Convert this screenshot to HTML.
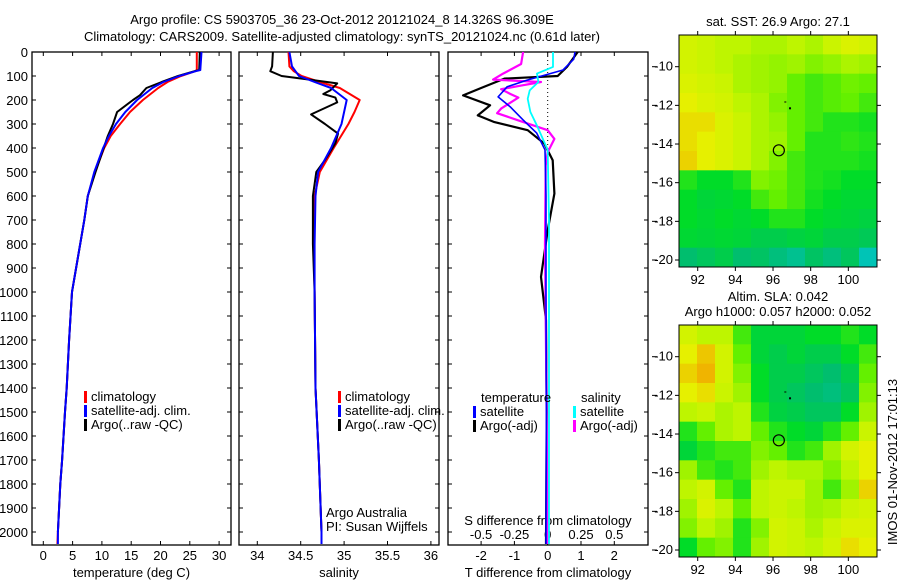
<!DOCTYPE html>
<html><head><meta charset="utf-8"><style>
html,body{margin:0;padding:0;background:#fff;}
svg{display:block;font-family:"Liberation Sans",sans-serif;}
text{fill:#000;font-size:13px;}
</style></head><body>
<svg id="fig" width="900" height="580" viewBox="0 0 900 580" xmlns="http://www.w3.org/2000/svg">
<text x="342" y="24" text-anchor="middle" font-size="14">Argo profile: CS 5903705_36 23-Oct-2012 20121024_8 14.326S 96.309E</text>
<text x="342" y="41" text-anchor="middle" font-size="14">Climatology: CARS2009. Satellite-adjusted climatology: synTS_20121024.nc (0.61d later)</text>
<g id="p1"></g>
<g id="p2"></g>
<g id="p3"></g>
<g id="m1"></g>
<g id="m2"></g>
<text x="778" y="26" text-anchor="middle" font-size="12">sat. SST: 26.9 Argo: 27.1</text>
<text x="778" y="301" text-anchor="middle" font-size="12">Altim. SLA: 0.042</text>
<text x="778" y="316" text-anchor="middle" font-size="12">Argo h1000: 0.057 h2000: 0.052</text>
<text x="0" y="0" font-size="12" text-anchor="middle" transform="translate(897,462) rotate(-90)">IMOS 01-Nov-2012 17:01:13</text>
</svg>
<script>
// ---- data ----
const depthTicks=[0,100,200,300,400,500,600,700,800,900,1000,1100,1200,1300,1400,1500,1600,1700,1800,1900,2000];
const tTicks=[0,5,10,15,20,25,30];
const sTicks=[34,34.5,35,35.5,36];
const dTTicks=[-2,-1,0,1,2];
const dSTicks=[-0.5,-0.25,0,0.25,0.5];
const dSTickLabels=["-0.5","-0.25","0","0.25","0.5"];

const tClimDepth=[0,75,80,100,125,150,200,250,300,350,400,500,600,700,800,1000,1200,1400,1500,1700,1800,2000,2050];
const tClim=[26.2,26.2,25.9,23.5,21.2,19.6,17.0,14.8,13.1,11.5,10.4,8.8,7.6,7.0,6.3,4.9,4.4,4.0,3.7,3.2,2.9,2.5,2.4];
const tSatDepth=[0,75,80,100,125,150,200,250,300,350,400,500,600,700,800,1000,1200,1400,1500,1700,1800,2000,2050];
const tSat=[27.0,26.8,26.0,23.2,20.5,18.6,16.0,14.0,12.4,11.2,10.2,8.7,7.6,7.0,6.3,4.9,4.4,4.0,3.7,3.2,2.9,2.5,2.5];
const tArgoDepth=[0,75,80,100,125,150,180,200,250,300,350,400,500,600,700,800,1000,1200,1400,1500,1700,1800,2000];
const tArgo=[26.7,26.6,25.8,23.0,20.2,17.6,16.5,15.3,12.6,11.9,11.0,10.3,8.9,7.6,7.0,6.3,4.9,4.4,4.0,3.7,3.2,2.9,2.5];

const sClimDepth=[0,60,80,100,125,150,200,250,300,400,500,600,800,1000,1400,1700,2000,2050];
const sClim=[34.36,34.37,34.42,34.51,34.72,34.95,35.18,35.12,35.05,34.88,34.72,34.66,34.65,34.66,34.67,34.71,34.74,34.74];
const sSatDepth=[0,60,80,100,125,150,200,250,300,400,500,600,800,1000,1400,1700,2000,2050];
const sSat=[34.37,34.40,34.44,34.48,34.66,34.85,35.03,35.0,34.97,34.85,34.70,34.67,34.66,34.66,34.67,34.71,34.74,34.74];
const sArgoDepth=[0,60,80,100,115,131,160,175,190,210,260,300,340,380,450,500,600,800,1000,1400,1700,2000];
const sArgo=[34.18,34.17,34.15,34.28,34.60,34.92,34.84,34.76,34.90,34.92,34.62,34.78,34.93,34.90,34.78,34.68,34.64,34.64,34.66,34.67,34.71,34.74];

const dTSatDepth=[0,30,75,117,145,187,228,283,338,408,600,1000,1500,2050];
const dTSat=[0.82,0.78,0.46,-0.62,-1.22,-1.49,-1.13,-0.74,-0.33,-0.08,-0.05,-0.05,-0.04,-0.05];
const dTArgoDepth=[0,62,100,111,150,181,222,264,292,326,382,451,590,743,937,1117,1500,2050];
const dTArgo=[0.9,0.58,0.3,-1.3,-2.0,-2.54,-1.73,-2.1,-1.6,-0.6,-0.1,0.15,0.2,0.0,-0.2,-0.05,-0.03,-0.05];
const dSSatDepth=[0,62,90,125,160,195,250,307,408,700,1200,2050];
const dSSat=[0.04,0.04,-0.08,-0.07,-0.135,-0.15,-0.13,-0.08,0.0,0.01,0.01,0.01];
const dSArgoDepth=[0,50,90,115,125,140,155,175,190,236,255,285,326,362,417,473,800,1400,2050];
const dSArgo=[-0.185,-0.2,-0.335,-0.41,-0.05,-0.2,-0.35,-0.28,-0.22,-0.35,-0.38,-0.22,0.0,0.05,0.0,-0.015,-0.02,-0.01,0.0];

const lonTicks=[92,94,96,98,100];
const latTicks=[-10,-12,-14,-16,-18,-20];
const sstGrid=[
[0.8,0.78,0.75,0.75,0.72,0.72,0.75,0.72,0.78,0.82,0.8],
[0.8,0.78,0.75,0.72,0.7,0.68,0.7,0.65,0.68,0.72,0.7],
[0.82,0.8,0.78,0.72,0.7,0.68,0.6,0.55,0.58,0.62,0.6],
[0.85,0.82,0.8,0.75,0.72,0.65,0.6,0.55,0.58,0.6,0.55],
[0.88,0.88,0.82,0.78,0.72,0.68,0.6,0.55,0.5,0.5,0.48],
[0.88,0.85,0.82,0.78,0.72,0.7,0.6,0.5,0.5,0.52,0.5],
[0.9,0.85,0.82,0.78,0.72,0.65,0.55,0.5,0.5,0.5,0.48],
[0.5,0.45,0.45,0.5,0.65,0.62,0.55,0.5,0.48,0.45,0.45],
[0.45,0.4,0.42,0.45,0.55,0.6,0.55,0.48,0.45,0.42,0.42],
[0.45,0.42,0.45,0.42,0.45,0.5,0.5,0.45,0.42,0.4,0.38],
[0.42,0.4,0.42,0.4,0.35,0.35,0.38,0.4,0.35,0.35,0.32],
[0.25,0.3,0.35,0.25,0.28,0.22,0.18,0.28,0.22,0.3,0.1]];
const slaGrid=[
[0.8,0.75,0.75,0.55,0.4,0.4,0.4,0.45,0.45,0.5,0.45],
[0.85,0.92,0.8,0.6,0.4,0.35,0.4,0.35,0.35,0.45,0.55],
[0.9,0.95,0.8,0.65,0.45,0.35,0.35,0.3,0.25,0.35,0.6],
[0.85,0.88,0.78,0.7,0.45,0.35,0.3,0.25,0.22,0.3,0.65],
[0.75,0.78,0.72,0.75,0.5,0.38,0.35,0.3,0.3,0.45,0.7],
[0.5,0.6,0.72,0.75,0.6,0.5,0.45,0.4,0.5,0.6,0.78],
[0.4,0.5,0.55,0.55,0.65,0.6,0.5,0.55,0.7,0.8,0.85],
[0.7,0.55,0.5,0.55,0.7,0.75,0.72,0.72,0.65,0.75,0.85],
[0.75,0.8,0.6,0.5,0.75,0.78,0.78,0.7,0.55,0.7,0.9],
[0.7,0.82,0.75,0.6,0.75,0.78,0.75,0.7,0.72,0.78,0.8],
[0.65,0.75,0.7,0.5,0.65,0.8,0.78,0.72,0.78,0.82,0.82],
[0.45,0.6,0.65,0.5,0.7,0.8,0.78,0.75,0.8,0.88,0.85]];
const argoLon=96.309, argoLat=-14.326;

// ---- helpers ----
const NS="http://www.w3.org/2000/svg";
function mk(parent,tag,attrs){const e=document.createElementNS(NS,tag);for(const k in attrs)e.setAttribute(k,attrs[k]);parent.appendChild(e);return e;}
const Y0=52, Y1=545;
const yD=d=>Y0+d*0.24;
function panel(g,x0,x1,xs,ticks,labels,xlabel,name){
  const fr=mk(g,'rect',{x:x0,y:Y0,width:x1-x0,height:Y1-Y0,fill:'none',stroke:'#000','stroke-width':1.3});
  
  
  ticks.forEach((t,i)=>{const x=xs(t);
    mk(g,'line',{x1:x,x2:x,y1:Y1,y2:Y1-4,stroke:'#000'});
    mk(g,'line',{x1:x,x2:x,y1:Y0,y2:Y0+4,stroke:'#000'});
    const tx=mk(g,'text',{x:x,y:560,'text-anchor':'middle'});tx.textContent=labels[i];
    
    
  });
  depthTicks.forEach(d=>{mk(g,'line',{x1:x0,x2:x0+4,y1:yD(d),y2:yD(d),stroke:'#000'});mk(g,'line',{x1:x1,x2:x1-4,y1:yD(d),y2:yD(d),stroke:'#000'});});
  if(xlabel){const t=mk(g,'text',{x:(x0+x1)/2,y:577,'text-anchor':'middle'});t.textContent=xlabel;
    
    }
}
function line(g,xs,depths,vals,color,w,name){
  const pts=depths.map((d,i)=>xs(vals[i]).toFixed(1)+','+yD(d).toFixed(1)).join(' ');
  const p=mk(g,'polyline',{points:pts,fill:'none',stroke:color,'stroke-width':w,'stroke-linejoin':'round'});
  
  
}
function legend(g,x,y,items){
  items.forEach((it,i)=>{
    mk(g,'rect',{x:x,y:y+i*14-10,width:3,height:12,fill:it[1]});
    const t=mk(g,'text',{x:x+7,y:y+i*14});t.textContent=it[0];
    
    
  });
}
// ---- panel 1 ----
const g1=document.getElementById('p1');
const xT=v=>43.3+v*5.86;
panel(g1,32,231,xT,tTicks,tTicks.map(String),'temperature (deg C)','temperature-panel');
depthTicks.forEach(d=>{const t=mk(g1,'text',{x:28,y:yD(d)+5,'text-anchor':'end'});t.textContent=d;
  
  });
line(g1,xT,tClimDepth,tClim,'#f00',2,'temp-climatology-line');
line(g1,xT,tArgoDepth,tArgo,'#000',2,'temp-argo-line');
line(g1,xT,tSatDepth,tSat,'#00f',2,'temp-satellite-line');
legend(g1,84,401,[['climatology','#f00'],['satellite-adj. clim.','#00f'],['Argo(..raw -QC)','#000']]);
// ---- panel 2 ----
const g2=document.getElementById('p2');
const xS=v=>257.3+(v-34)*86.8;
panel(g2,239,439,xS,sTicks,sTicks.map(String),'salinity','salinity-panel');
line(g2,xS,sClimDepth,sClim,'#f00',2,'sal-climatology-line');
line(g2,xS,sArgoDepth,sArgo,'#000',2,'sal-argo-line');
line(g2,xS,sSatDepth,sSat,'#00f',2,'sal-satellite-line');
legend(g2,338,401,[['climatology','#f00'],['satellite-adj. clim.','#00f'],['Argo(..raw -QC)','#000']]);
let t=mk(g2,'text',{x:326,y:517});t.textContent='Argo Australia';
t=mk(g2,'text',{x:326,y:531});t.textContent='PI: Susan Wijffels';
// ---- panel 3 ----
const g3=document.getElementById('p3');
const xDT=v=>547.7+v*33.3;
const xDS=v=>547.7+v*4*33.3;
panel(g3,448,648,xDT,dTTicks,dTTicks.map(String),'T difference from climatology','difference-panel');
dSTicks.forEach((s,i)=>{const tx=mk(g3,'text',{x:xDS(s),y:539,'text-anchor':'middle'});tx.textContent=dSTickLabels[i];
  
  });
t=mk(g3,'text',{x:548,y:525,'text-anchor':'middle'});t.textContent='S difference from climatology';
mk(g3,'line',{x1:xDT(0),x2:xDT(0),y1:Y0,y2:yD(420),stroke:'#000','stroke-dasharray':'1,3'});
line(g3,xDT,dTArgoDepth,dTArgo,'#000',2.2,'dT-argo-line');
line(g3,xDS,dSArgoDepth,dSArgo,'#f0f',2.2,'dS-argo-line');
line(g3,xDT,dTSatDepth,dTSat,'#00f',1.6,'dT-satellite-line');
line(g3,xDS,dSSatDepth,dSSat,'#0ff',1.8,'dS-satellite-line');
t=mk(g3,'text',{x:481,y:402});t.textContent='temperature';
t=mk(g3,'text',{x:581,y:402});t.textContent='salinity';
legend(g3,473,416,[['satellite','#00f'],['Argo(-adj)','#000']]);
legend(g3,573,416,[['satellite','#0ff'],['Argo(-adj)','#f0f']]);
// ---- maps ----
function cmap(v){
  const stops=[[0,[0,200,230]],[0.25,[0,190,110]],[0.45,[0,220,40]],[0.6,[100,240,0]],[0.75,[190,245,0]],[0.85,[230,240,0]],[1,[245,150,0]]];
  for(let i=1;i<stops.length;i++){if(v<=stops[i][0]){const a=stops[i-1],b=stops[i];const f=(v-a[0])/(b[0]-a[0]);
    return 'rgb('+a[1].map((c,j)=>Math.round(c+(b[1][j]-c)*f)).join(',')+')';}}
  return 'rgb(245,150,0)';
}
function map(g,top,grid,name){
  const x0=679,x1=877,y0=top,y1=top+232;
  const lonX=l=>697.7+(l-92)*18.83;
  const latY=a=>y0+31.7+(-10-a)*19.33;
  const rows=grid.length, cols=grid[0].length;
  const cw=(x1-x0)/cols, ch=(y1-y0)/rows;
  grid.forEach((row,r)=>row.forEach((v,c)=>{
    const cell=mk(g,'rect',{x:(x0+c*cw).toFixed(2),y:(y0+r*ch).toFixed(2),width:(cw+0.5).toFixed(2),height:(ch+0.5).toFixed(2),fill:cmap(v)});
    
    
  }));
  mk(g,'rect',{x:x0,y:y0,width:x1-x0,height:y1-y0,fill:'none',stroke:'#000','stroke-width':1});
  lonTicks.forEach(l=>{const x=lonX(l);
    mk(g,'line',{x1:x,x2:x,y1:y1,y2:y1+4,stroke:'#000'});mk(g,'line',{x1:x,x2:x,y1:y0,y2:y0-4,stroke:'#000'});
    const tx=mk(g,'text',{x:x,y:y1+17,'text-anchor':'middle','font-size':12});tx.textContent=l;
    
    });
  latTicks.forEach(a=>{const y=latY(a);
    mk(g,'line',{x1:x0,x2:x0-4,y1:y,y2:y,stroke:'#000'});mk(g,'line',{x1:x1,x2:x1+4,y1:y,y2:y,stroke:'#000'});
    mk(g,'line',{x1:652,x2:657,y1:y,y2:y,stroke:'#000'});
    const tx=mk(g,'text',{x:673,y:y+4,'text-anchor':'end','font-size':12});tx.textContent=a;
    
    });
  const c=mk(g,'circle',{cx:lonX(argoLon),cy:latY(argoLat),r:5.5,fill:'none',stroke:'#000','stroke-width':1.2});
  
  
  mk(g,'rect',{x:lonX(96.6),y:latY(-11.8),width:2,height:1,fill:'#000'});
  mk(g,'rect',{x:lonX(96.85),y:latY(-12.1),width:2,height:2,fill:'#000'});
}
map(document.getElementById('m1'),35,sstGrid,'sst');
map(document.getElementById('m2'),325,slaGrid,'sla');
</script>
</body></html>
